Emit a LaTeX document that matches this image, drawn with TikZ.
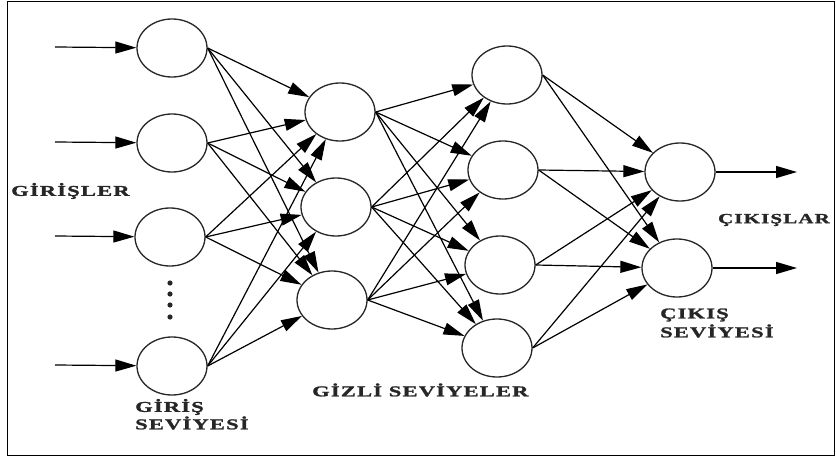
\documentclass[tikz,border=0pt]{standalone}
\usepackage{fontspec}
\newfontfamily\lblfont{Liberation Serif Bold}[FakeStretch=1.5, FakeBold=1.5, LetterSpace=8]
\usetikzlibrary{shapes.geometric,arrows.meta}
\begin{document}
\begin{tikzpicture}[x=1pt,y=-1pt,
  neuron/.style={ellipse,draw=black!85,line width=1.3pt,minimum width=70pt,minimum height=58pt,inner sep=0pt},
  conn/.style={line width=1.2pt,-{Triangle[length=21pt,width=12pt]}},
  lbl/.style={inner sep=0pt,anchor=west,font=\lblfont\fontsize{15}{17}\selectfont,text=black!85}]
\useasboundingbox (0,0) rectangle (836,458);
\draw[line width=1pt] (7,1.5) rectangle (834,455);

% input layer
\node[neuron] (i1) at (172,48) {};
\node[neuron] (i2) at (172,143) {};
\node[neuron] (i3) at (170,237) {};
\node[neuron] (i4) at (172,366) {};
% first hidden layer
\node[neuron] (a1) at (340,112) {};
\node[neuron] (a2) at (336,207) {};
\node[neuron] (a3) at (332,300) {};
% second hidden layer
\node[neuron] (b1) at (507,75) {};
\node[neuron] (b2) at (503,170) {};
\node[neuron] (b3) at (500,265) {};
\node[neuron] (b4) at (497,348) {};
% output layer
\node[neuron] (o1) at (680,172) {};
\node[neuron] (o2) at (677,268) {};

% dots between the input neurons
\foreach \yy [count=\k] in {283,294,305,317}
  \fill[black!85] (170,\yy) circle (2.6pt) coordinate (d\k);

% incoming signals
\coordinate (s1) at (55,47);
\coordinate (s2) at (55,142);
\coordinate (s3) at (55,236);
\coordinate (s4) at (55,365);
\foreach \k in {1,...,4} \draw[conn] (s\k) -- (i\k);

% outgoing signals
\coordinate (e1) at (797,172);
\coordinate (e2) at (797,268);
\foreach \k in {1,2} \draw[conn] (o\k) -- (e\k);

% full connections between consecutive layers
\foreach \k in {1,...,4} \foreach \j in {1,...,3} \draw[conn] (i\k.east) -- (a\j);
\foreach \k in {1,...,3} \foreach \j in {1,...,4} \draw[conn] (a\k.east) -- (b\j);
\foreach \k in {1,...,4} \foreach \j in {1,2} \draw[conn] (b\k.east) -- (o\j);

% labels
\node[lbl] (t1) at (11,191) {GİRİŞLER};
\node[lbl] (t2) at (135,407) {GİRİŞ};
\node[lbl] (t3) at (135,423) {SEVİYESİ};
\node[lbl] (t4) at (312,390) {GİZLİ SEVİYELER};
\node[lbl,anchor=east,font=\lblfont\fontsize{14}{16}\selectfont] (t5) at (830,220) {ÇIKIŞLAR};
\node[lbl] (t6) at (660,315) {ÇIKIŞ};
\node[lbl] (t7) at (660,331) {SEVİYESİ};
\end{tikzpicture}
\end{document}
